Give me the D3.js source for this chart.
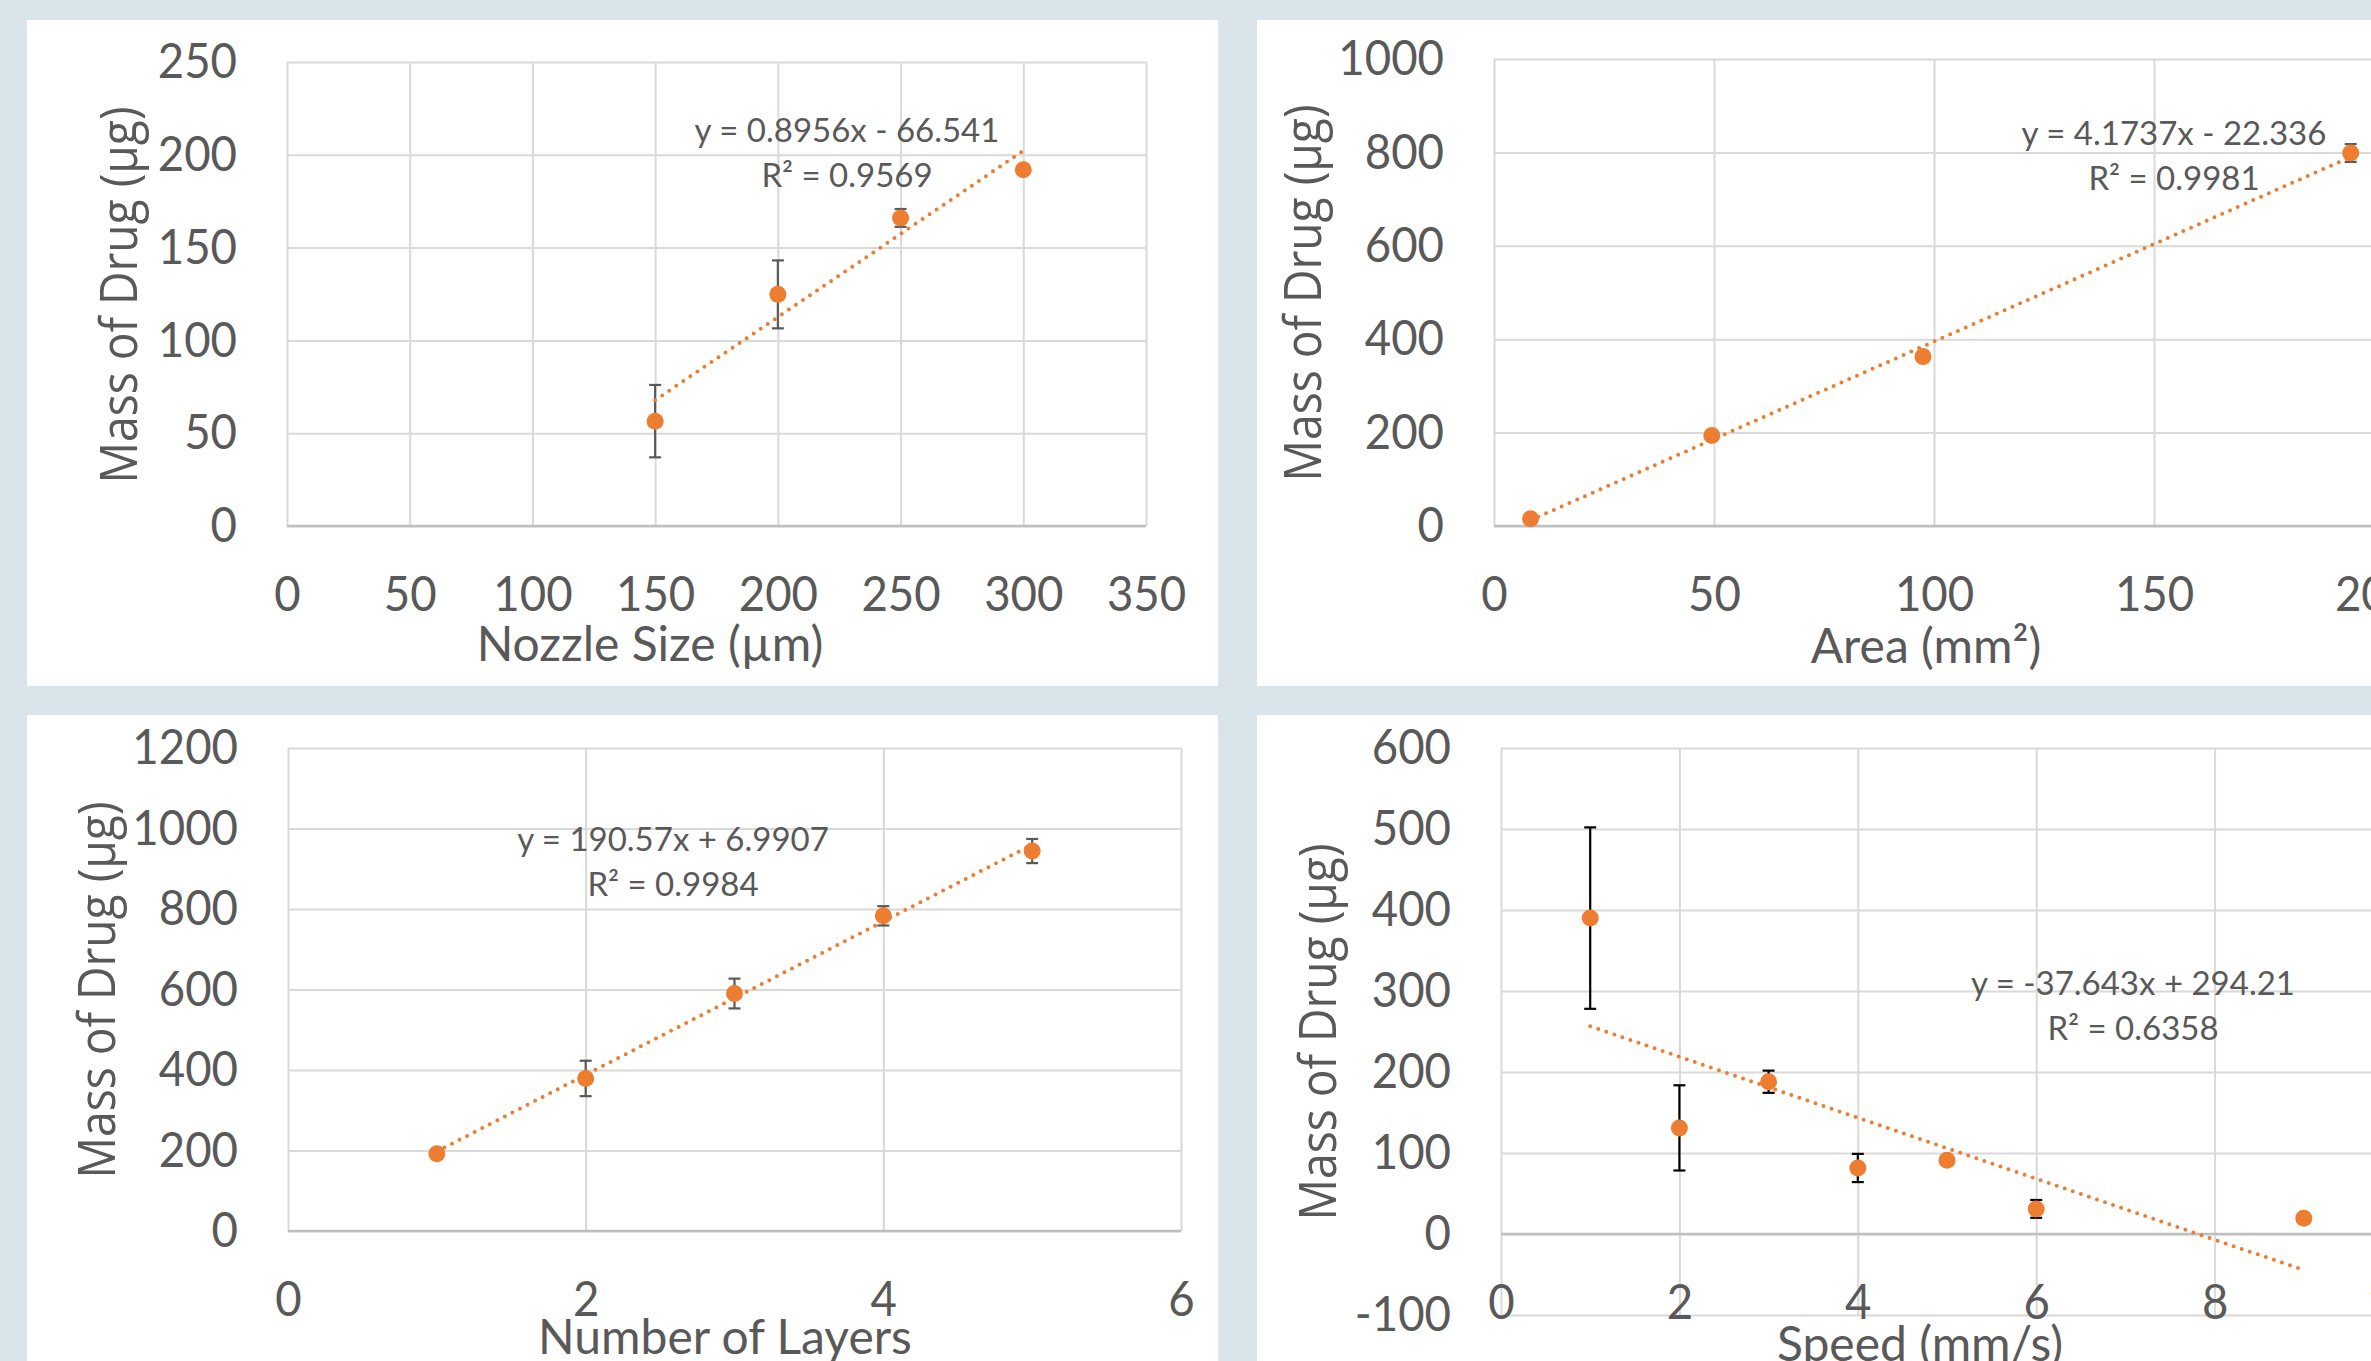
<!DOCTYPE html>
<html>
<head>
<meta charset="utf-8">
<script src="https://cdn.jsdelivr.net/npm/d3@7"></script>
<style>
  html, body { margin: 0; padding: 0; background: #d9e4eb; overflow: hidden; }
  svg { display: block; }
</style>
</head>
<body>
<svg id="chart" width="2371" height="1361"></svg>
<script>
// Nozzle size vs mass
const nozzleSize = [150, 200, 250, 300];
const nozzleMass = [56.5, 124.8, 166, 192];
const nozzleError = [19.5, 18.3, 4.8, 0];
const nozzleFit = [0.8956, -66.541];
const nozzleLabel = ['y = 0.8956x - 66.541', 'R² = 0.9569'];
const nozzleXTicks = [0, 50, 100, 150, 200, 250, 300, 350];
const nozzleYTicks = [0, 50, 100, 150, 200, 250];

// Area vs mass
const area = [8.3, 49.5, 97.5, 194.7];
const areaMass = [15.4, 193.8, 362.7, 798.7];
const areaError = [0, 0, 0, 19];
const areaFit = [4.1737, -22.336];
const areaLabel = ['y = 4.1737x - 22.336', 'R² = 0.9981'];
const areaXTicks = [0, 50, 100, 150, 200, 250];
const areaYTicks = [0, 200, 400, 600, 800, 1000];

// Number of layers vs mass
const layers = [1, 2, 3, 4, 5];
const layersMass = [192, 379, 590, 783, 944];
const layersError = [0, 44, 37, 24, 30];
const layersFit = [190.57, 6.9907];
const layersLabel = ['y = 190.57x + 6.9907', 'R² = 0.9984'];
const layersXTicks = [0, 2, 4, 6];
const layersYTicks = [0, 200, 400, 600, 800, 1000, 1200];

// Speed vs mass
const speed = [1, 2, 3, 4, 5, 6, 9];
const speedMass = [390, 131, 188, 81.5, 91, 31, 19.4];
const speedError = [112, 52.6, 13.7, 17.4, 0, 11, 0];
const speedFit = [-37.643, 294.21];
const speedLabel = ['y = -37.643x + 294.21', 'R² = 0.6358'];
const speedXTicks = [0, 2, 4, 6, 8, 10];
const speedYTicks = [-100, 0, 100, 200, 300, 400, 500, 600];

const orange = '#ed7d31';
const textGrey = '#595959';
const tickFont = 'Lato, "Open Sans", sans-serif';
const plainNumber = d => String(d);   // excel style: no grouping, hyphen minus
const squeeze = 0.93;                 // tick labels are a bit narrower than Lato

const svg = d3.select('#chart');

const charts = [
    {
        panel: [27, 20, 1218, 686],
        plot: {left: 287, right: 1146, top: 62, bottom: 526},
        xs: nozzleSize, ys: nozzleMass, err: nozzleError, fit: nozzleFit, label: nozzleLabel,
        xTicks: nozzleXTicks, yTicks: nozzleYTicks,
        xTitle: 'Nozzle Size (µm)', xTitlePos: [650, 661], yTitlePos: [137, 295],
        labelPos: [847, 142], errColor: '#595959'
    },
    {
        panel: [1257, 20, 2371, 686],
        plot: {left: 1494, right: 2594, top: 59, bottom: 526},
        xs: area, ys: areaMass, err: areaError, fit: areaFit, label: areaLabel,
        xTicks: areaXTicks, yTicks: areaYTicks,
        xTitle: 'Area (mm²)', xTitlePos: [1926, 663], yTitlePos: [1321, 293],
        labelPos: [2174, 145], errColor: '#595959'
    },
    {
        panel: [27, 715, 1218, 1361],
        plot: {left: 288, right: 1181, top: 748, bottom: 1231},
        xs: layers, ys: layersMass, err: layersError, fit: layersFit, label: layersLabel,
        xTicks: layersXTicks, yTicks: layersYTicks,
        xTitle: 'Number of Layers', xTitlePos: [725, 1354], yTitlePos: [115, 990],
        labelPos: [673, 851], errColor: '#595959'
    },
    {
        panel: [1257, 715, 2371, 1361],
        plot: {left: 1501, right: 2393, top: 748, bottom: 1315},
        xs: speed, ys: speedMass, err: speedError, fit: speedFit, label: speedLabel,
        xTicks: speedXTicks, yTicks: speedYTicks,
        xTitle: 'Speed (mm/s)', xTitlePos: [1920, 1361], yTitlePos: [1336, 1032],
        labelPos: [2133, 995], errColor: '#000000'
    }
];

charts.forEach(drawChart);

function drawChart(c) {
    let p = c.plot;
    let g = svg.append('g');

    // white panel
    g.append('rect')
        .attr('x', c.panel[0])
        .attr('y', c.panel[1])
        .attr('width', c.panel[2] - c.panel[0])
        .attr('height', c.panel[3] - c.panel[1])
        .attr('fill', '#ffffff');

    let x = d3.scaleLinear()
        .domain([c.xTicks[0], c.xTicks[c.xTicks.length - 1]])
        .range([p.left, p.right]);
    let y = d3.scaleLinear()
        .domain([c.yTicks[0], c.yTicks[c.yTicks.length - 1]])
        .range([p.bottom, p.top]);

    // gridlines
    g.append('g')
        .attr('transform', `translate(${p.left},0)`)
        .call(d3.axisLeft(y).tickValues(c.yTicks).tickSize(-(p.right - p.left)).tickFormat(''))
        .call(a => a.select('.domain').remove())
        .call(a => a.selectAll('line').attr('stroke', '#d9d9d9').attr('stroke-width', 2));
    g.append('g')
        .attr('transform', `translate(0,${p.bottom})`)
        .call(d3.axisBottom(x).tickValues(c.xTicks).tickSize(-(p.bottom - p.top)).tickFormat(''))
        .call(a => a.select('.domain').remove())
        .call(a => a.selectAll('line').attr('stroke', '#d9d9d9').attr('stroke-width', 2));

    // horizontal axis line at zero
    g.append('line')
        .attr('x1', p.left).attr('x2', p.right)
        .attr('y1', y(0)).attr('y2', y(0))
        .attr('stroke', '#bfbfbf')
        .attr('stroke-width', 2.5);

    // tick labels
    g.append('g')
        .attr('transform', `translate(${p.left},0)`)
        .call(d3.axisLeft(y).tickValues(c.yTicks).tickSize(0).tickPadding(50).tickFormat(plainNumber))
        .call(a => a.select('.domain').remove())
        .call(a => a.selectAll('text')
            .attr('x', -50 / squeeze)
            .attr('transform', `scale(${squeeze},1)`)
            .attr('fill', textGrey)
            .style('font-family', tickFont)
            .style('font-size', '49px'));
    g.append('g')
        .attr('transform', `translate(0,${y(0)})`)
        .call(d3.axisBottom(x).tickValues(c.xTicks).tickSize(0).tickPadding(50).tickFormat(plainNumber))
        .call(a => a.select('.domain').remove())
        .call(a => a.selectAll('text')
            .attr('transform', `scale(${squeeze},1)`)
            .attr('fill', textGrey)
            .style('font-family', tickFont)
            .style('font-size', '49px'));

    let pts = c.xs.map((v, i) => ({x: v, y: c.ys[i], e: c.err[i]}));

    // error bars
    let eb = g.append('g')
        .attr('stroke', c.errColor)
        .attr('stroke-width', 2.2);
    pts.filter(d => d.e > 0).forEach(d => {
        eb.append('line')
            .attr('x1', x(d.x)).attr('x2', x(d.x))
            .attr('y1', y(d.y + d.e)).attr('y2', y(d.y - d.e));
        [d.y + d.e, d.y - d.e].forEach(v => {
            eb.append('line')
                .attr('x1', x(d.x) - 6).attr('x2', x(d.x) + 6)
                .attr('y1', y(v)).attr('y2', y(v));
        });
    });

    // trendline
    let x0 = d3.min(c.xs), x1 = d3.max(c.xs);
    let fitLine = d3.line().x(d => x(d)).y(d => y(c.fit[0] * d + c.fit[1]));
    g.append('path')
        .datum([x0, x1])
        .attr('d', fitLine)
        .attr('fill', 'none')
        .attr('stroke', orange)
        .attr('stroke-width', 4)
        .attr('stroke-linecap', 'round')
        .attr('stroke-dasharray', '0 8.5');

    // markers
    g.append('g')
        .selectAll('circle')
        .data(pts)
        .join('circle')
        .attr('cx', d => x(d.x))
        .attr('cy', d => y(d.y))
        .attr('r', 8.5)
        .attr('fill', orange);

    // equation label
    c.label.forEach((t, i) => {
        g.append('text')
            .attr('x', c.labelPos[0])
            .attr('y', c.labelPos[1] + i * 45)
            .attr('text-anchor', 'middle')
            .attr('fill', textGrey)
            .style('font-family', tickFont)
            .style('font-size', '33px')
            .text(t);
    });

    // axis titles
    g.append('text')
        .attr('x', c.xTitlePos[0])
        .attr('y', c.xTitlePos[1])
        .attr('text-anchor', 'middle')
        .attr('fill', textGrey)
        .style('font-family', tickFont)
        .style('font-size', '48px')
        .text(c.xTitle);
    g.append('text')
        .attr('transform', `translate(${c.yTitlePos[0]},${c.yTitlePos[1]}) rotate(-90)`)
        .attr('text-anchor', 'middle')
        .attr('fill', textGrey)
        .attr('textLength', 377)
        .attr('lengthAdjust', 'spacingAndGlyphs')
        .style('font-family', '"Open Sans", "Noto Sans", sans-serif')
        .style('font-size', '52px')
        .text('Mass of Drug (µg)');
}
</script>
</body>
</html>
